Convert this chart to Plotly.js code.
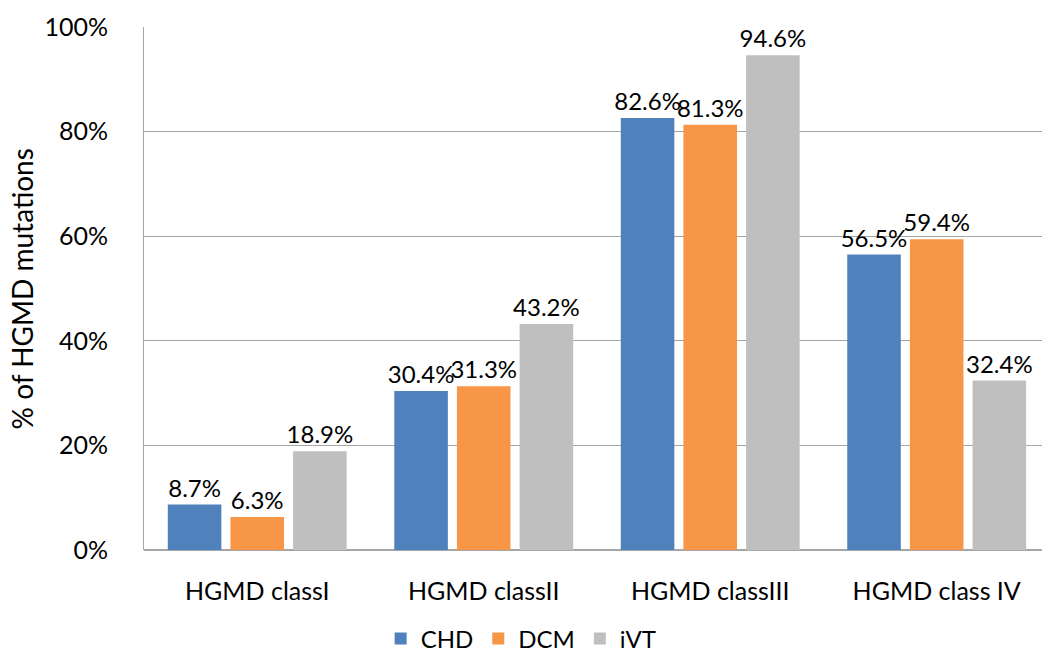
<!DOCTYPE html>
<html><head><meta charset="utf-8">
<script src="https://cdn.plot.ly/plotly-3.0.1.min.js"></script>
<style>html,body{margin:0;padding:0;background:#fff}#chart{width:1042px;height:655px}</style>
</head><body><div id="chart"></div>
<script>
const categories = ["HGMD classI", "HGMD classII", "HGMD classIII", "HGMD class IV"];
const seriesNames = ["CHD", "DCM", "iVT"];
const chdValues = [8.7, 30.4, 82.6, 56.5];
const dcmValues = [6.3, 31.3, 81.3, 59.4];
const ivtValues = [18.9, 43.2, 94.6, 32.4];
const yTickValues = [0, 20, 40, 60, 80, 100];
const yTickLabels = ["0%", "20%", "40%", "60%", "80%", "100%"];
const colors = ["#4F81BD", "#F79646", "#BFBFBF"];
const FONT = "Lato, 'Open Sans', sans-serif";

const allValues = [chdValues, dcmValues, ivtValues];
const traces = allValues.map((vals, i) => ({
  type: "bar",
  name: seriesNames[i],
  x: categories,
  y: vals,
  text: vals.map(v => v.toFixed(1) + "%"),
  textposition: "outside",
  constraintext: "none",
  cliponaxis: false,
  textfont: {family: FONT, size: 24, color: "#000"},
  marker: {color: colors[i]},
  hoverinfo: "none"
}));

const layout = {
  width: 1042, height: 655,
  margin: {l: 144, r: 0, t: 27, b: 105, autoexpand: false},
  paper_bgcolor: "#fff", plot_bgcolor: "#fff",
  font: {family: FONT, color: "#000"},
  barmode: "group",
  bargap: 0.17,
  bargroupgap: 0.145,
  showlegend: true,
  legend: {orientation: "h", x: 0.42, xanchor: "center", y: -0.17, yanchor: "middle",
           font: {family: FONT, size: 24}, itemwidth: 30, traceorder: "normal"},
  xaxis: {
    type: "category",
    range: [-0.5, 3.465],
    automargin: false,
    showgrid: false, zeroline: false,
    showline: false, ticks: "",
    tickfont: {family: FONT, size: 25},
    ticklabelstandoff: 24
  },
  yaxis: {
    range: [0, 100],
    automargin: false,
    tickvals: yTickValues, ticktext: yTickLabels,
    showgrid: true, gridcolor: "#A6A6A6", gridwidth: 1,
    zeroline: true, zerolinecolor: "#A6A6A6", zerolinewidth: 1.5,
    showline: true, linecolor: "#A6A6A6", linewidth: 1,
    ticks: "",
    tickfont: {family: FONT, size: 25},
    ticklabelstandoff: 30
  },
  annotations: [{
    text: "% of HGMD mutations", textangle: -90,
    xref: "paper", yref: "paper", x: -0.1359, y: 0.5,
    xanchor: "center", yanchor: "middle", showarrow: false,
    font: {family: FONT, size: 28, color: "#000"}
  }]
};

Plotly.newPlot("chart", traces, layout, {displayModeBar: false, staticPlot: true});
</script>
</body></html>
